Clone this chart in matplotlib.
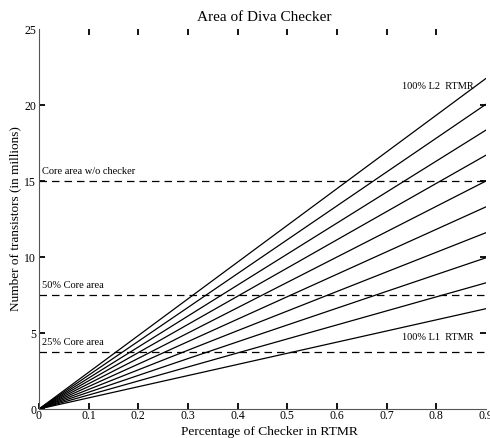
import matplotlib
matplotlib.use("Agg")
import matplotlib.pyplot as plt
import numpy as np

plt.rcParams['font.family'] = ['Liberation Serif', 'DejaVu Serif']

# data
x_end = 0.9
end_values = [6.6, 8.3, 9.95, 11.6, 13.3, 15.0, 16.7, 18.35, 20.05, 21.75]
ref_levels = [15.0, 7.5, 3.75]
ref_labels = ["Core area w/o checker", "50% Core area", "25% Core area"]
xticks = [0, 0.1, 0.2, 0.3, 0.4, 0.5, 0.6, 0.7, 0.8, 0.9]
xticklabels = ["0", "0.1", "0.2", "0.3", "0.4", "0.5", "0.6", "0.7", "0.8", "0.9"]
yticks = [0, 5, 10, 15, 20, 25]

fig = plt.figure(figsize=(4.9, 4.38), dpi=100)
ax = fig.add_axes([39/490, 1-409/438, 447/490, 380/438])

for v in end_values:
    ax.plot([0, x_end], [0, v], color='black', lw=0.9)

for lvl, lab in zip(ref_levels, ref_labels):
    ax.plot([0, x_end], [lvl, lvl], color='black', lw=0.9, linestyle=(0, (6, 4)))
    ax.text(0.007, lvl + 0.35, lab, fontsize=7.5, ha='left', va='bottom')

ax.text(0.73, 21.2, "100% L2  RTMR", fontsize=7.5, ha='left', va='center')
ax.text(0.73, 4.7, "100% L1  RTMR", fontsize=7.5, ha='left', va='center')

ax.set_xlim(0, 0.9)
ax.set_ylim(0, 25)
ax.set_xticks(xticks)
ax.set_xticklabels(xticklabels)
ax.set_yticks(yticks)
ax.tick_params(direction='in', length=4, width=1.3, labelsize=8.5,
               top=True, right=True)
ax.tick_params(axis='x', pad=1)
ax.tick_params(axis='y', pad=2)
xt = ax.xaxis.get_major_ticks()
yt = ax.yaxis.get_major_ticks()
for t in (xt[0], xt[-1]):
    t.tick2line.set_visible(False)
xt[-1].tick1line.set_visible(False)
for t in (yt[0], yt[-1]):
    t.tick2line.set_visible(False)
yt[-1].tick1line.set_visible(False)
for s in ['top', 'right']:
    ax.spines[s].set_visible(False)
for s in ['left', 'bottom']:
    ax.spines[s].set_color('#555555')
    ax.spines[s].set_linewidth(0.8)

ax.set_title("Area of Diva Checker", fontsize=11, pad=6, x=0.505)
ax.set_xlabel("Percentage of Checker in RTMR", fontsize=9.7, labelpad=2)
ax.xaxis.set_label_coords(0.515, -0.045, transform=ax.transAxes)
ax.xaxis.label.set_va('top')
ax.set_ylabel("Number of transistors (in millions)", fontsize=9.5, labelpad=2)

fig.savefig("out.png", dpi=100)
